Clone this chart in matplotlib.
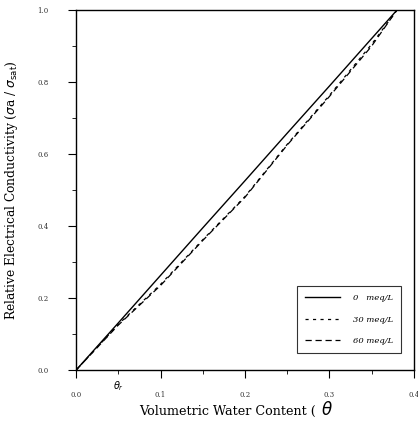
import matplotlib
matplotlib.use('Agg')
import matplotlib.pyplot as plt
from matplotlib.ticker import MultipleLocator

# volumetric water content values
theta = [0.0, 0.05, 0.10, 0.15, 0.20, 0.25, 0.30, 0.35, 0.38]
# relative conductivity for each solution concentration
rel_ec_0 = [0.0, 0.131, 0.263, 0.395, 0.526, 0.658, 0.789, 0.921, 1.0]
rel_ec_30 = [0.0, 0.127, 0.238, 0.362, 0.482, 0.627, 0.763, 0.905, 1.0]
rel_ec_60 = [0.0, 0.125, 0.235, 0.36, 0.48, 0.625, 0.76, 0.90, 1.0]

x_ticks = [0.0, 0.1, 0.2, 0.3, 0.4]
y_ticks = [0.0, 0.2, 0.4, 0.6, 0.8, 1.0]
serif = 'DejaVu Serif'

fig = plt.figure(figsize=(4.18, 4.22), dpi=100)
ax = fig.add_axes([0.182, 0.123, 0.808, 0.853])

ax.plot(theta, rel_ec_0, color='black', linewidth=1.0, label='0   meq/L')
ax.plot(theta, rel_ec_30, color='black', linewidth=0.9, linestyle=(0, (2.5, 3.5)), label='30 meq/L')
ax.plot(theta, rel_ec_60, color='black', linewidth=0.9, linestyle=(0, (5, 3)), label='60 meq/L')

ax.set_xlim(0, 0.4)
ax.set_ylim(0, 1.0)
ax.set_xticks(x_ticks)
ax.set_yticks(y_ticks)
ax.xaxis.set_minor_locator(MultipleLocator(0.05))
ax.yaxis.set_minor_locator(MultipleLocator(0.1))
ax.tick_params(which='major', length=6, width=0.8, labelsize=5, colors='black')
ax.tick_params(axis='x', which='major', pad=9)
ax.tick_params(axis='y', which='major', pad=14)
ax.tick_params(which='minor', length=3, width=0.6)
ax.set_xticklabels([f'{v:.1f}' for v in x_ticks], family=serif, color='#333333')
ax.set_yticklabels([f'{v:.1f}' for v in y_ticks], family=serif, color='#333333')
for s in ax.spines.values():
    s.set_linewidth(1.0)

# residual water content marker below the axis
ax.text(0.05, -0.045, r'$\theta_r$', ha='center', va='center', fontsize=7,
        transform=ax.transData, clip_on=False)

ax.set_ylabel(r'Relative Electrical Conductivity ($\sigma$a / $\sigma_{\rm sat}$)',
              family=serif, fontsize=8.8, labelpad=12)
fig.text(0.765, 0.026, 'Volumetric Water Content ( ', family=serif, fontsize=9.2,
         ha='right', va='center')
fig.text(0.767, 0.029, r'$\theta$', fontsize=12, ha='left', va='center')

leg = ax.legend(loc='lower right', bbox_to_anchor=(0.975, 0.035), frameon=True,
                fancybox=False, edgecolor='black', fontsize=6,
                prop={'family': serif, 'size': 6, 'style': 'italic'},
                handlelength=4.2, labelspacing=1.6, borderpad=1.0, handletextpad=1.5)
leg.get_frame().set_linewidth(0.8)

fig.savefig('out.png', dpi=100)
